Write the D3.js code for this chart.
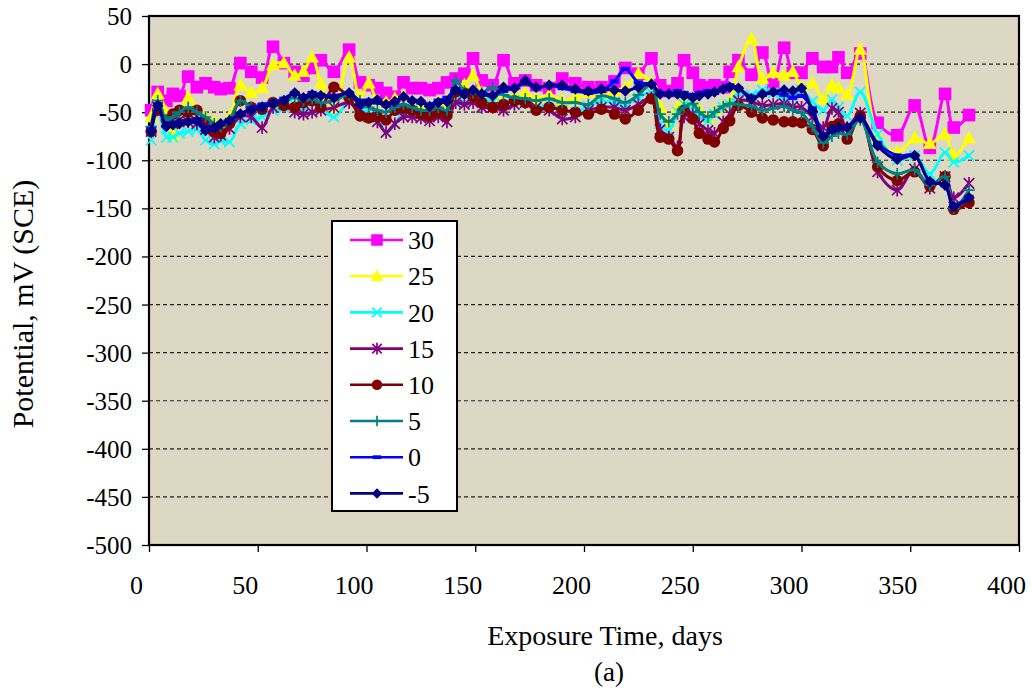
<!DOCTYPE html>
<html><head><meta charset="utf-8">
<script src="https://cdn.jsdelivr.net/npm/d3@7"></script>
<style>body{margin:0;background:#fff}svg{display:block}</style>
</head><body>
<svg id="c" width="1032" height="692"></svg>
<script>
const days=[1,4,8,11,14,18,22,26,30,33,37,42,47,52,57,62,67,71,75,79,85,92,97,101,105,109,113,117,121,125,129,133,137,141,145,149,153,158,163,168,173,178,184,190,196,202,208,214,219,225,231,235,239,243,246,250,253,257,260,264,267,271,277,282,287,292,296,300,305,310,314,317,321,327,335,344,352,359,366,370,377];
const s30=[-48,-29,-38,-31,-33,-13,-24,-20,-24,-26,-25,1,-8,-14,18,1,-8,-12,-4,4,-8,15,-19,-22,-25,-30,-34,-19,-25,-25,-27,-25,-19,-15,-10,6,-17,-22,4,-20,-17,-22,-25,-15,-20,-24,-24,-18,-4,-10,6,-22,-28,-20,4,-9,-22,-24,-22,-24,-8,4,-11,12,-22,17,-9,-9,6,-3,-3,7,-9,11,-61,-74,-43,-87,-31,-66,-53];
const s25=[-55,-31,-50,-74,-60,-35,-48,-55,-60,-62,-55,-22,-30,-25,-1,1,-12,-8,7,-20,-46,7,-35,-20,-38,-40,-36,-33,-40,-44,-48,-40,-38,-30,-22,-12,-30,-40,-30,-34,-30,-36,-32,-38,-35,-30,-33,-28,-25,-10,-20,-45,-62,-45,-38,-40,-48,-57,-50,-44,-40,-3,26,-15,-9,-12,-8,-24,-20,-37,-22,-25,-32,15,-75,-92,-77,-83,-73,-95,-77];
const s20=[-79,-45,-76,-76,-72,-70,-68,-79,-83,-80,-81,-62,-58,-55,-48,-45,-42,-48,-40,-46,-55,-40,-45,-50,-55,-71,-62,-50,-48,-52,-55,-50,-52,-38,-40,-38,-35,-40,-42,-38,-40,-45,-42,-48,-50,-44,-38,-40,-42,-35,-30,-62,-69,-50,-42,-45,-55,-59,-52,-45,-42,-30,-32,-27,-30,-36,-35,-27,-39,-48,-37,-45,-54,-29,-73,-100,-95,-114,-92,-102,-95];
const s15=[-70,-45,-60,-62,-58,-60,-62,-68,-76,-74,-67,-55,-55,-66,-45,-42,-50,-52,-50,-48,-45,-40,-48,-55,-60,-71,-62,-55,-55,-56,-59,-55,-60,-40,-42,-40,-45,-45,-48,-42,-40,-45,-48,-57,-55,-48,-45,-45,-48,-42,-35,-68,-76,-86,-55,-52,-62,-69,-72,-60,-52,-38,-39,-43,-42,-41,-44,-45,-55,-66,-46,-50,-66,-51,-112,-131,-109,-129,-117,-139,-124];
const s10=[-70,-48,-58,-52,-48,-50,-48,-60,-70,-72,-62,-38,-45,-47,-40,-43,-45,-40,-38,-45,-24,-35,-54,-56,-55,-58,-48,-46,-48,-52,-54,-50,-53,-29,-30,-34,-40,-45,-42,-38,-40,-48,-45,-48,-50,-52,-47,-52,-57,-48,-36,-76,-78,-90,-48,-57,-72,-78,-81,-67,-59,-43,-50,-56,-58,-60,-60,-61,-68,-85,-65,-62,-78,-54,-107,-121,-112,-127,-117,-151,-144];
const s5=[-65,-38,-58,-55,-50,-45,-50,-55,-62,-65,-58,-38,-45,-45,-40,-38,-35,-38,-36,-40,-38,-32,-38,-45,-48,-50,-45,-42,-45,-48,-48,-45,-48,-17,-28,-30,-30,-24,-32,-35,-36,-38,-36,-40,-40,-42,-33,-36,-40,-32,-21,-52,-60,-52,-45,-41,-50,-55,-50,-44,-41,-42,-44,-48,-46,-44,-48,-51,-65,-82,-75,-72,-73,-58,-102,-114,-110,-126,-117,-150,-131];
const s0=[-68,-42,-64,-62,-60,-60,-57,-66,-68,-62,-58,-52,-46,-42,-40,-36,-30,-34,-30,-32,-33,-30,-38,-38,-40,-43,-40,-35,-38,-40,-42,-38,-35,-26,-30,-28,-30,-32,-28,-25,-20,-25,-22,-25,-28,-30,-28,-18,-5,-19,-21,-30,-32,-28,-30,-32,-30,-28,-30,-25,-22,-25,-34,-32,-30,-32,-35,-33,-46,-73,-70,-68,-65,-56,-82,-95,-95,-122,-126,-146,-138];
const sM5=[-70,-43,-65,-63,-62,-60,-59,-69,-66,-62,-59,-52,-48,-45,-41,-38,-30,-35,-32,-33,-35,-30,-42,-40,-37,-42,-39,-34,-38,-39,-44,-40,-39,-27,-31,-27,-31,-33,-24,-25,-17,-24,-22,-22,-26,-28,-26,-27,-28,-24,-21,-31,-31,-31,-33,-35,-33,-31,-29,-26,-24,-25,-36,-31,-29,-27,-28,-25,-49,-75,-68,-66,-66,-56,-85,-99,-95,-122,-126,-148,-139];
const seriesNames=["30","25","20","15","10","5","0","-5"];
const seriesValues=[s30,s25,s20,s15,s10,s5,s0,sM5];
const seriesColors=["#FF00FF","#FFFF00","#00FFFF","#800080","#800000","#008080","#0000FF","#000080"];
const seriesMarkers=["square","triangle","x","star","circle","plus","dash","diamond"];
const xTicks=[0,50,100,150,200,250,300,350,400];
const yTicks=[50,0,-50,-100,-150,-200,-250,-300,-350,-400,-450,-500];

const svg=d3.select("#c");
const L=149,R=1019,T=16,B=545;
const x=d3.scaleLinear().domain([0,400]).range([L,R]);
const y=d3.scaleLinear().domain([-500,50]).range([B,T]);
const font="'Liberation Serif','Times New Roman',serif";

svg.append("rect").attr("x",L).attr("y",T).attr("width",R-L).attr("height",B-T).attr("fill","#DDD8C4");
svg.append("g").selectAll("line").data(yTicks.filter(v=>v<50&&v>-500)).join("line")
  .attr("x1",L).attr("x2",R).attr("y1",d=>y(d)).attr("y2",d=>y(d))
  .attr("stroke","#222").attr("stroke-width",1.2).attr("stroke-dasharray","4,3");

const yAxis=d3.axisLeft(y).tickValues(yTicks).tickSize(7).tickPadding(10).tickFormat(d3.format("d"));
const gy=svg.append("g").attr("transform",`translate(${L},0)`).call(yAxis);
gy.select(".domain").remove();
gy.selectAll("line").attr("stroke","#000").attr("stroke-width",1.3);
gy.selectAll("text").attr("font-family",font).attr("font-size",25).attr("fill","#000").attr("dy","0.34em").text(d=>d<0?"-"+Math.abs(d):d);

const xAxis=d3.axisBottom(x).tickValues(xTicks).tickSize(7).tickPadding(0).tickFormat(d3.format("d"));
const gx=svg.append("g").attr("transform",`translate(0,${B})`).call(xAxis);
gx.select(".domain").remove();
gx.selectAll("line").attr("stroke","#000").attr("stroke-width",1.3);
gx.selectAll("text").attr("font-family",font).attr("font-size",26).attr("fill","#000").attr("dy",null).attr("y",49).attr("x",-13);

svg.append("rect").attr("x",L).attr("y",T).attr("width",R-L).attr("height",B-T).attr("fill","none").attr("stroke","#000").attr("stroke-width",2.2);

svg.append("clipPath").attr("id","pc").append("rect").attr("x",L-8).attr("y",T-8).attr("width",R-L+16).attr("height",B-T+16);

function marker(g,type,color,cx,cy,s){
  s=s||1;
  if(type==="square") g.append("rect").attr("x",cx-5.5*s).attr("y",cy-5.5*s).attr("width",11*s).attr("height",11*s).attr("fill",color);
  else if(type==="triangle") g.append("path").attr("d",`M${cx},${cy-6.5*s}L${cx+6*s},${cy+4.5*s}L${cx-6*s},${cy+4.5*s}Z`).attr("fill",color);
  else if(type==="x") g.append("path").attr("d",`M${cx-4.5*s},${cy-4.5*s}L${cx+4.5*s},${cy+4.5*s}M${cx-4.5*s},${cy+4.5*s}L${cx+4.5*s},${cy-4.5*s}`).attr("stroke",color).attr("stroke-width",1.7).attr("fill","none");
  else if(type==="star") g.append("path").attr("d",`M${cx-4.5*s},${cy-4.5*s}L${cx+4.5*s},${cy+4.5*s}M${cx-4.5*s},${cy+4.5*s}L${cx+4.5*s},${cy-4.5*s}M${cx},${cy-5.5*s}L${cx},${cy+5.5*s}`).attr("stroke",color).attr("stroke-width",1.7).attr("fill","none");
  else if(type==="circle") g.append("circle").attr("cx",cx).attr("cy",cy).attr("r",5*s).attr("fill",color);
  else if(type==="plus") g.append("path").attr("d",`M${cx-5*s},${cy}L${cx+5*s},${cy}M${cx},${cy-5*s}L${cx},${cy+5*s}`).attr("stroke",color).attr("stroke-width",1.7).attr("fill","none");
  else if(type==="dash") g.append("rect").attr("x",cx-4*s).attr("y",cy-1.8*s).attr("width",8*s).attr("height",3.6*s).attr("fill",color);
  else if(type==="diamond") g.append("path").attr("d",`M${cx},${cy-5*s}L${cx+5*s},${cy}L${cx},${cy+5*s}L${cx-5*s},${cy}Z`).attr("fill",color);
}

const line=d3.line().x(d=>x(d[0])).y(d=>y(d[1])).curve(d3.curveCatmullRom.alpha(0.5));
const plot=svg.append("g").attr("clip-path","url(#pc)");
seriesNames.forEach((name,i)=>{
  const pts=days.map((d,j)=>[d,seriesValues[i][j]]);
  const g=plot.append("g");
  g.append("path").datum(pts).attr("d",line).attr("fill","none").attr("stroke",seriesColors[i]).attr("stroke-width",3);
  pts.forEach(p=>marker(g,seriesMarkers[i],seriesColors[i],x(p[0]),y(p[1]),1.15));
});

const lg=svg.append("g");
lg.append("rect").attr("x",332).attr("y",221).attr("width",125).attr("height",290).attr("fill","#fff").attr("stroke","#000").attr("stroke-width",2);
seriesNames.forEach((name,i)=>{
  const yy=240+i*36.2;
  lg.append("line").attr("x1",350).attr("x2",403).attr("y1",yy).attr("y2",yy).attr("stroke",seriesColors[i]).attr("stroke-width",2.6);
  marker(lg,seriesMarkers[i],seriesColors[i],377,yy,1.05);
  lg.append("text").attr("x",408).attr("y",yy).attr("dy","0.35em").attr("font-family",font).attr("font-size",26).text(name);
});

svg.append("text").attr("x",605).attr("y",645).attr("text-anchor","middle").attr("font-family",font).attr("font-size",28).text("Exposure Time, days");
svg.append("text").attr("x",609).attr("y",681).attr("text-anchor","middle").attr("font-family",font).attr("font-size",27).text("(a)");
svg.append("text").attr("transform","translate(33,304) rotate(-90)").attr("text-anchor","middle").attr("font-family",font).attr("font-size",30).text("Potential, mV (SCE)");
</script>
</body></html>
